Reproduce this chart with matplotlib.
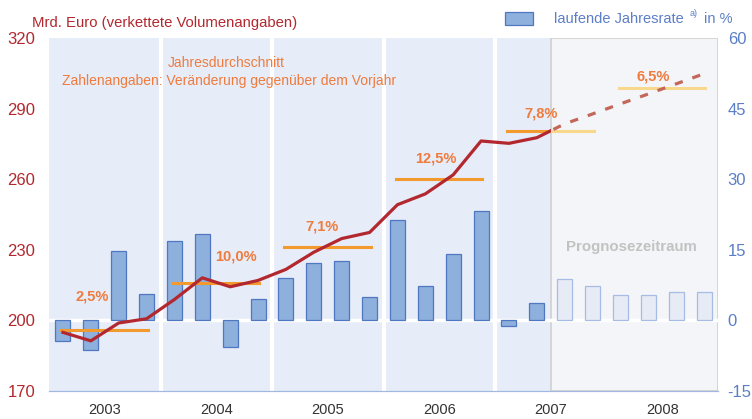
import matplotlib
matplotlib.use("Agg")
import matplotlib.pyplot as plt
from matplotlib.patches import Rectangle
from matplotlib.transforms import Bbox, TransformedBbox
import numpy as np

plt.rcParams['font.family'] = ['Liberation Sans', 'DejaVu Sans']
plt.rcParams['axes.unicode_minus'] = False

# quarterly data 2003 Q1 .. 2008 Q4
years = [2003, 2004, 2005, 2006, 2007, 2008]
volume = [194.8, 191.2, 198.8, 200.6,
          208.8, 218.0, 214.2, 216.9,
          221.6, 228.9, 234.7, 237.3,
          249.1, 253.7, 261.8, 276.2,
          275.2, 277.6, 283.5, 287.7,
          292.0, 296.2, 300.5, 304.8]
rate = [-4.5, -6.3, 14.7, 5.5,
        16.8, 18.3, -5.7, 4.4,
        8.9, 12.2, 12.5, 4.9,
        21.3, 7.3, 14.1, 23.3,
        -1.2, 3.7, 8.7, 7.2,
        5.4, 5.4, 6.0, 6.0]
annual_avg = [195.8, 215.6, 231.1, 260.2, 280.5, 298.9]
annual_labels = ["2,5%", "10,0%", "7,1%", "12,5%", "7,8%", "6,5%"]
forecast_start = 2007.5
n_hist = 18  # quarters before the forecast period

# label positions (x in years, y in Mrd. Euro)
label_pos = [(2003.39, 210.1), (2004.68, 227.2), (2005.45, 240.0),
             (2006.47, 268.6), (2007.41, 287.9), (2008.42, 303.7)]

RED = "#b3282f"
BLUE = "#5b7fc7"
ORANGE = "#f39a2e"
PALE = "#f7d88c"
LABEL = "#ef7b3d"
BAR_FC = "#8eb0dc"
BAR_EC = "#4f77c2"

W, H = 752, 419
fig = plt.figure(figsize=(W / 100, H / 100), dpi=100)
ax2 = fig.add_axes([49 / W, 1 - 390.7 / H, 669 / W, 352.7 / H])
ax = ax2.twinx()
ax2.yaxis.tick_right()
ax.yaxis.tick_left()
ax.set_zorder(ax2.get_zorder() + 1)
ax.patch.set_visible(False)

xq = np.array([y + (q + 0.5) / 4 for y in years for q in range(4)])

# background + year separators + forecast box (on the bar axes)
ax2.set_facecolor("#e6ecf8")
ax2.set_xlim(2003, 2009)
ax2.set_ylim(-15, 60)
for b in years[1:5]:
    ax2.axvline(b, color="white", lw=3, zorder=1)
ax2.add_patch(Rectangle((forecast_start, -15), 2009 - forecast_start, 75,
                        facecolor="#f4f5f8", edgecolor="#d0d0d0", lw=1.2,
                        zorder=1.5))
ax2.axhline(0, color="white", lw=2.5, zorder=2)

rate = np.array(rate)
ax2.bar(xq[:n_hist], rate[:n_hist], width=0.135, color=BAR_FC,
        edgecolor=BAR_EC, lw=0.9, zorder=3)
ax2.bar(xq[n_hist:], rate[n_hist:], width=0.135, color="#e6ebf5",
        edgecolor="#a7bce4", lw=0.9, zorder=3)

# volume line: solid up to forecast start, dashed after
ax.set_ylim(170, 320)
ax.set_xlim(2003, 2009)
solid = ax.plot(xq[:n_hist + 1], volume[:n_hist + 1], color=RED, lw=2.3,
                zorder=5)[0]
solid.set_clip_box(TransformedBbox(Bbox([[2003, 100], [forecast_start, 400]]),
                                   ax.transData))
dashed = ax.plot(xq[n_hist - 1:], volume[n_hist - 1:], color="#c4675b",
                 lw=2.3, zorder=5, dashes=(2.6, 3.2))[0]
dashed.set_clip_box(TransformedBbox(Bbox([[forecast_start, 100], [2009, 400]]),
                                    ax.transData))

# annual averages
for yr, avg, lab, (lx, ly) in zip(years, annual_avg, annual_labels, label_pos):
    x0, x1 = yr + 0.11, yr + 0.885
    if x1 <= forecast_start:
        ax.plot([x0, x1], [avg, avg], color=ORANGE, lw=2.2, zorder=4)
    elif x0 >= forecast_start:
        ax.plot([x0, x1], [avg, avg], color=PALE, lw=2.2, zorder=4)
    else:
        ax.plot([x0, forecast_start], [avg, avg], color=ORANGE, lw=2.2, zorder=4)
        ax.plot([forecast_start, x1], [avg, avg], color=PALE, lw=2.2, zorder=4)
    ax.text(lx, ly, lab, color=LABEL, fontsize=10.5, fontweight="bold",
            ha="center", va="center", zorder=6)

ax.text(2008.22, 231.1, "Prognosezeitraum", color="#c2c2c2", fontsize=10.8,
        fontweight="bold", ha="center", va="center", zorder=6)

# axes styling
for a in (ax, ax2):
    for s in ("top", "left", "right"):
        a.spines[s].set_visible(False)
    a.spines["bottom"].set_color("#a3b8e0")
ax.set_yticks(range(170, 321, 30))
ax.tick_params(axis="y", length=0, pad=10, labelsize=12, labelcolor=RED)
ax2.set_yticks(range(-15, 61, 15))
ax2.tick_params(axis="y", length=0, pad=7, labelsize=12, labelcolor=BLUE)

ax2.set_xticks(range(2003, 2010))
ax2.set_xticklabels([])
ax2.tick_params(axis="x", which="major", length=5, color="#a3b8e0")
ax2.set_xticks([y + 0.5 for y in years], minor=True)
ax2.set_xticklabels([str(y) for y in years], minor=True)
ax2.tick_params(axis="x", which="minor", length=0, pad=9, labelsize=10.5,
                labelcolor="#333333")
ax.set_xticks([])


def fpos(x, y):
    return x / W, 1 - y / H


fig.text(*fpos(32, 23), "Mrd. Euro (verkettete Volumenangaben)", color=RED,
         fontsize=10.7, va="center", ha="left")
fig.text(*fpos(168, 63), "Jahresdurchschnitt", color=LABEL, fontsize=10,
         va="center", ha="left")
fig.text(*fpos(62, 81), "Zahlenangaben: Veränderung gegenüber dem Vorjahr",
         color=LABEL, fontsize=10, va="center", ha="left")

# legend
fig.patches.append(Rectangle(fpos(505, 24.7), 28 / W, 13 / H,
                             transform=fig.transFigure, facecolor=BAR_FC,
                             edgecolor=BAR_EC, lw=0.9))
fig.text(*fpos(553.7, 19), "laufende Jahresrate", color=BLUE, fontsize=10.5,
         va="center", ha="left")
fig.text(*fpos(690, 13), "a)", color=BLUE, fontsize=6.5, va="center",
         ha="left")
fig.text(*fpos(703.5, 19), "in %", color=BLUE, fontsize=10.5, va="center",
         ha="left")

fig.savefig("out.png", dpi=100)
